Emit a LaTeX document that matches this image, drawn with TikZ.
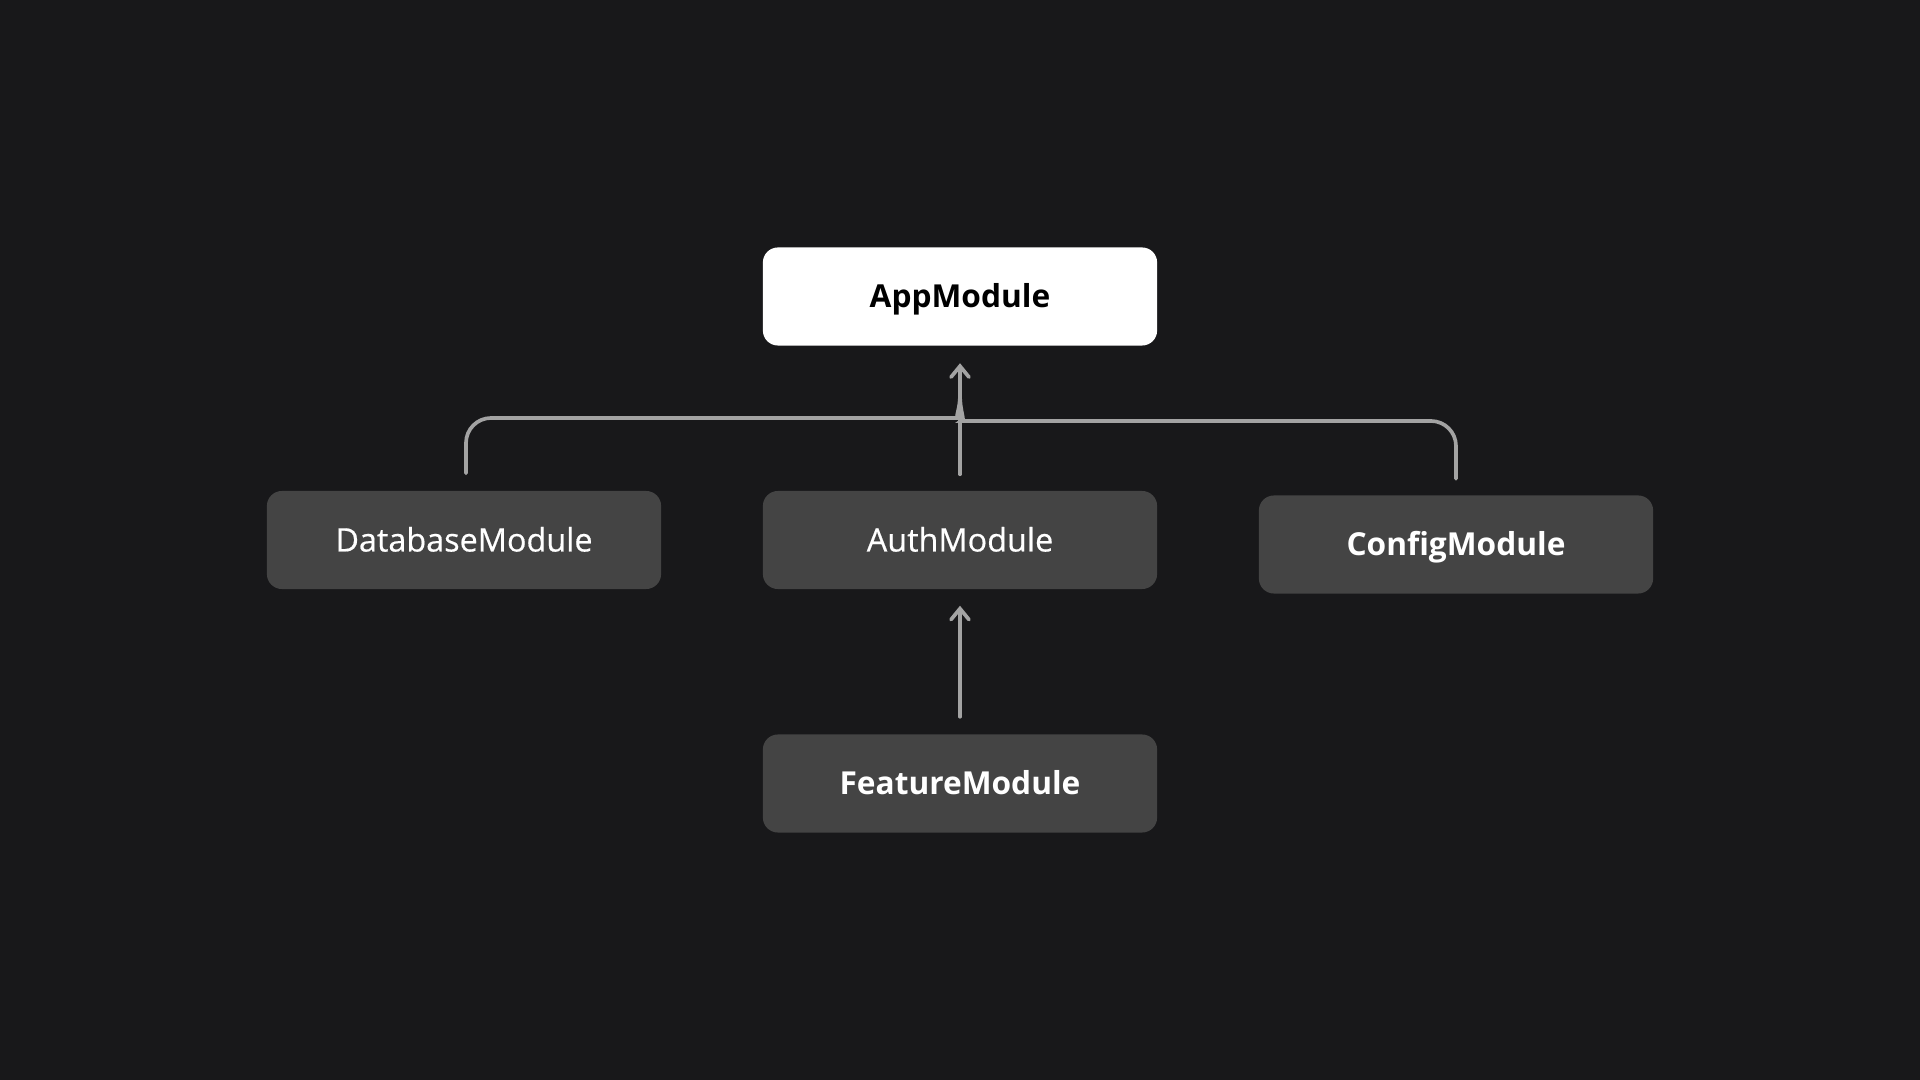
\documentclass[tikz,border=0pt]{standalone}
\usepackage{fontspec}
\setmainfont{Open Sans}
\newfontface\medface{Open Sans}[FakeBold=0.5]
\usetikzlibrary{arrows.meta}
\definecolor{bg}{HTML}{18181A}
\definecolor{boxgray}{HTML}{444444}
\definecolor{wire}{HTML}{A3A3A3}
\begin{document}
\begin{tikzpicture}[x=0.01cm,y=-0.01cm,
    module/.style={fill=boxgray,text=white,rounded corners=0.15cm,
      minimum width=3.94cm,minimum height=0.98cm,text height=0.23cm,text depth=0pt,
      font=\fontsize{9.2}{11}\medface},
    bold/.style={font=\fontsize{9}{11}\selectfont\bfseries},
    root/.style={module,bold,fill=white,text=black},
    link/.style={draw=wire,line width=1.05pt,line cap=round},
    tip/.style={-{Straight Barb[length=1.1mm,width=1.8mm,line cap=round]}}]
    \fill[bg] (0,0) rectangle (1920,1080);
    \useasboundingbox (0,0) rectangle (1920,1080);
    \node[root] (app) at (960,296.5) {AppModule};
    \node[module] (db) at (464,540) {DatabaseModule};
    \node[module] (auth) at (960,540) {AuthModule};
    \node[module,bold] (config) at (1456,544.5) {ConfigModule};
    \node[module,bold] (feature) at (960,783.5) {FeatureModule};
    \draw[link,tip] (auth.north) ++(0,-16) -- ([yshift=-0.17cm]app.south);
    \draw[link,rounded corners=0.25cm] (db.north) ++(2,-17) -- (466,418) -- (934,418)
      [sharp corners] .. controls (954,418) and (960,412) .. (960,394);
    \draw[link,rounded corners=0.25cm] (config.north) ++(0,-16) -- (1456,421) -- (986,421)
      [sharp corners] .. controls (966,421) and (960,414) .. (960,394);
    \draw[link,tip] (feature.north) ++(0,-17) -- ([yshift=-0.16cm]auth.south);
\end{tikzpicture}
\end{document}
